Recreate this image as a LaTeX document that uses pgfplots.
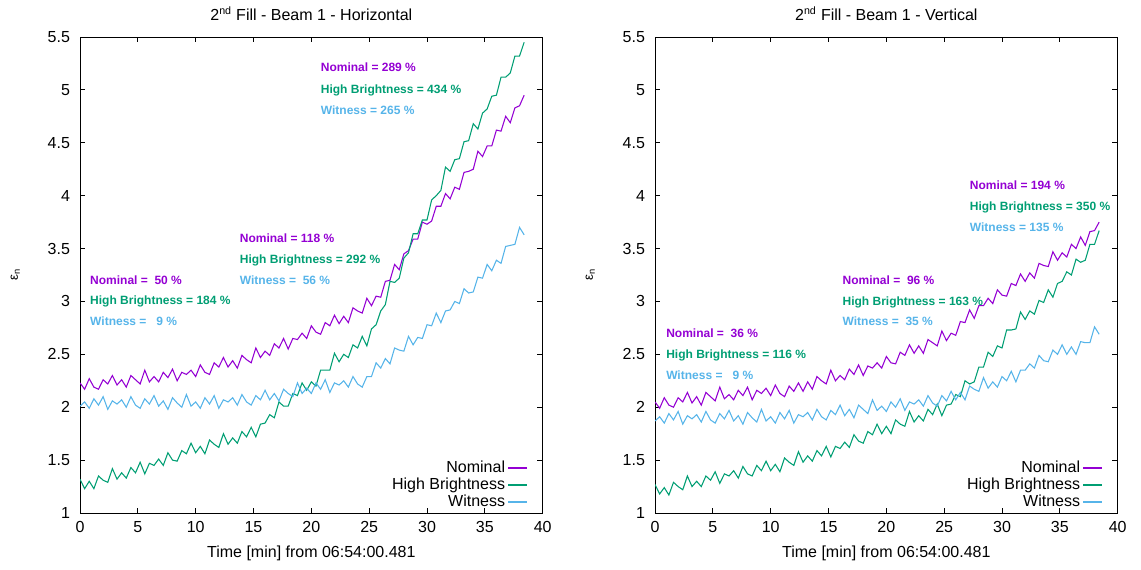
\documentclass[border=0pt]{standalone}
\usepackage{pgfplots}
\pgfplotsset{compat=1.18}
\usepackage{pgfplotstable}
\usepackage{fontspec}
\setmainfont{Liberation Sans}
\definecolor{cNom}{HTML}{9400D3}
\definecolor{cHB}{HTML}{009E73}
\definecolor{cWit}{HTML}{56B4E9}

\pgfplotstableread{
t a b c
0.0 2.23 1.32 2.01
0.4 2.17 1.23 2.05
0.8 2.27 1.30 1.99
1.2 2.19 1.23 2.08
1.6 2.17 1.35 2.02
2.0 2.26 1.31 2.10
2.4 2.22 1.29 1.98
2.8 2.30 1.42 2.06
3.2 2.21 1.32 2.03
3.6 2.26 1.38 2.07
4.0 2.19 1.33 2.00
4.4 2.30 1.43 2.10
4.8 2.26 1.38 2.02
5.2 2.22 1.48 1.99
5.6 2.35 1.37 2.08
6.0 2.24 1.47 2.03
6.4 2.29 1.45 2.11
6.8 2.24 1.51 2.01
7.2 2.33 1.45 2.06
7.6 2.28 1.57 1.98
8.0 2.36 1.50 2.09
8.4 2.25 1.49 2.04
8.8 2.33 1.59 2.00
9.2 2.31 1.56 2.12
9.6 2.35 1.66 2.01
10.0 2.29 1.57 2.05
10.4 2.40 1.63 1.99
10.8 2.33 1.56 2.09
11.2 2.31 1.69 2.03
11.6 2.42 1.65 2.11
12.0 2.38 1.62 1.99
12.4 2.47 1.75 2.07
12.8 2.38 1.65 2.05
13.2 2.44 1.71 2.09
13.6 2.37 1.66 2.02
14.0 2.49 1.77 2.12
14.4 2.45 1.72 2.05
14.8 2.42 1.81 2.02
15.2 2.56 1.72 2.11
15.6 2.47 1.84 2.07
16.0 2.53 1.85 2.16
16.4 2.49 1.93 2.07
16.8 2.60 1.90 2.13
17.2 2.56 2.05 2.06
17.6 2.65 2.01 2.17
18.0 2.55 2.01 2.13
18.4 2.65 2.13 2.10
18.8 2.64 2.11 2.23
19.2 2.70 2.23 2.13
19.6 2.65 2.16 2.18
20.0 2.77 2.24 2.13
20.4 2.71 2.20 2.23
20.8 2.69 2.35 2.17
21.2 2.80 2.35 2.26
21.6 2.77 2.35 2.14
22.0 2.87 2.51 2.23
22.4 2.79 2.43 2.21
22.8 2.86 2.50 2.25
23.2 2.80 2.47 2.19
23.6 2.94 2.59 2.29
24.0 2.91 2.56 2.22
24.4 2.89 2.67 2.19
24.8 3.03 2.58 2.29
25.2 2.96 2.74 2.29
25.6 3.05 2.78 2.42
26.0 3.04 2.91 2.37
26.4 3.19 2.97 2.46
26.8 3.20 3.19 2.41
27.2 3.35 3.18 2.56
27.6 3.30 3.22 2.54
28.0 3.45 3.41 2.53
28.4 3.48 3.46 2.67
28.8 3.59 3.64 2.59
29.2 3.59 3.64 2.66
29.6 3.75 3.77 2.65
30.0 3.73 3.77 2.78
30.4 3.76 3.96 2.77
30.8 3.90 4.00 2.89
31.2 3.90 4.05 2.80
31.6 4.02 4.27 2.91
32.0 3.97 4.23 2.92
32.4 4.08 4.34 3.00
32.8 4.06 4.35 2.98
33.2 4.22 4.51 3.12
33.6 4.23 4.52 3.08
34.0 4.25 4.68 3.09
34.4 4.42 4.63 3.23
34.8 4.37 4.78 3.22
35.2 4.47 4.82 3.35
35.6 4.47 4.94 3.29
36.0 4.62 4.95 3.39
36.4 4.61 5.12 3.36
36.8 4.75 5.12 3.52
37.2 4.69 5.16 3.53
37.6 4.83 5.32 3.54
38.0 4.85 5.32 3.70
38.4 4.95 5.45 3.63
}\tabH

\pgfplotstableread{
t a b c
0.0 2.05 1.27 1.87
0.4 1.99 1.18 1.91
0.8 2.09 1.24 1.85
1.2 2.02 1.17 1.94
1.6 2.00 1.29 1.88
2.0 2.09 1.25 1.96
2.4 2.05 1.22 1.84
2.8 2.14 1.35 1.92
3.2 2.04 1.25 1.89
3.6 2.10 1.30 1.93
4.0 2.02 1.25 1.86
4.4 2.14 1.35 1.96
4.8 2.10 1.31 1.88
5.2 2.06 1.39 1.85
5.6 2.19 1.28 1.94
6.0 2.08 1.37 1.89
6.4 2.12 1.35 1.97
6.8 2.07 1.40 1.87
7.2 2.16 1.33 1.92
7.6 2.11 1.44 1.84
8.0 2.19 1.37 1.95
8.4 2.07 1.35 1.90
8.8 2.16 1.45 1.86
9.2 2.13 1.40 1.98
9.6 2.18 1.49 1.87
10.0 2.11 1.40 1.91
10.4 2.21 1.46 1.85
10.8 2.13 1.39 1.95
11.2 2.10 1.52 1.89
11.6 2.20 1.48 1.97
12.0 2.15 1.45 1.85
12.4 2.23 1.58 1.93
12.8 2.15 1.48 1.91
13.2 2.24 1.54 1.95
13.6 2.17 1.49 1.88
14.0 2.29 1.59 1.98
14.4 2.25 1.54 1.91
14.8 2.22 1.63 1.88
15.2 2.35 1.53 1.97
15.6 2.25 1.63 1.93
16.0 2.30 1.61 2.02
16.4 2.26 1.67 1.92
16.8 2.36 1.62 1.98
17.2 2.31 1.74 1.90
17.6 2.40 1.68 2.02
18.0 2.30 1.66 1.98
18.4 2.39 1.77 1.94
18.8 2.37 1.74 2.07
19.2 2.42 1.84 1.97
19.6 2.37 1.75 2.01
20.0 2.48 1.82 1.96
20.4 2.42 1.75 2.05
20.8 2.41 1.88 2.00
21.2 2.52 1.84 2.08
21.6 2.49 1.82 1.97
22.0 2.59 1.96 2.05
22.4 2.51 1.86 2.03
22.8 2.58 1.92 2.07
23.2 2.51 1.87 2.01
23.6 2.64 1.98 2.11
24.0 2.61 1.93 2.04
24.4 2.58 2.03 2.01
24.8 2.72 1.92 2.11
25.2 2.63 2.02 2.06
25.6 2.70 2.03 2.15
26.0 2.68 2.12 2.07
26.4 2.81 2.10 2.14
26.8 2.80 2.25 2.07
27.2 2.92 2.22 2.20
27.6 2.84 2.24 2.17
28.0 2.96 2.38 2.15
28.4 2.96 2.38 2.28
28.8 3.03 2.52 2.18
29.2 2.98 2.48 2.24
29.6 3.11 2.58 2.19
30.0 3.06 2.56 2.29
30.4 3.05 2.73 2.25
30.8 3.17 2.73 2.34
31.2 3.15 2.74 2.24
31.6 3.26 2.90 2.35
32.0 3.19 2.83 2.35
32.4 3.27 2.91 2.41
32.8 3.22 2.88 2.37
33.2 3.36 3.01 2.49
33.6 3.34 2.99 2.44
34.0 3.33 3.11 2.43
34.4 3.47 3.04 2.54
34.8 3.39 3.17 2.50
35.2 3.46 3.19 2.59
35.6 3.42 3.28 2.50
36.0 3.54 3.25 2.57
36.4 3.50 3.40 2.50
36.8 3.61 3.37 2.62
37.2 3.53 3.39 2.61
37.6 3.66 3.54 2.61
38.0 3.67 3.54 2.76
38.4 3.75 3.67 2.69
}\tabV

\tikzset{ann/.style={anchor=base west, inner xsep=0pt, font=\bfseries\fontsize{9}{10}\selectfont}}

\pgfplotsset{
  myaxis/.style={
    scale only axis, width=347pt, height=357pt,
    xmin=0, xmax=40, ymin=1, ymax=5.5,
    xtick={0,5,10,15,20,25,30,35,40},
    ytick={1,1.5,2,2.5,3,3.5,4,4.5,5,5.5},
    tick align=inside, major tick length=4pt,
    axis line style={line width=0.75pt},
    every tick/.style={black, line width=0.75pt},
    /pgf/number format/assume math mode=true,
    ticklabel style={font=\fontsize{12}{14}\selectfont},
    yticklabel style={xshift=-4pt},
    xticklabel style={yshift=-3pt},
    xlabel={Time [min] from 06:54:00.481},
    xlabel style={at={(axis description cs:0.5,0)}, anchor=base, yshift=-33pt, font=\fontsize{12}{14}\selectfont},
    ylabel={ε\textsubscript{n}},
    ylabel style={at={(axis description cs:-0.14,0.5)}, anchor=center, rotate=0, font=\fontsize{10}{12}\selectfont},
    title style={at={(axis description cs:0.5,1)}, anchor=base, yshift=6.75pt, font=\fontsize{12}{14}\selectfont},
    legend cell align=right,
    legend plot pos=right,
    legend style={draw=none, fill=none, at={(axis description cs:1,0)}, anchor=south east, xshift=-8pt, yshift=-1pt, font=\fontsize{12}{12}\selectfont, row sep=-1.5pt},
    legend image code/.code={\draw[#1, line width=1pt] (5pt,0pt) -- (19pt,0pt);},
    every axis plot/.append style={line width=0.8pt},
  },
}

\begin{document}
\begin{tikzpicture}
\useasboundingbox (0pt,0pt) rectangle (855.75pt,426.75pt);
\begin{axis}[myaxis, at={(60pt,42pt)}, anchor=south west,
  title={2\textsuperscript{nd} Fill - Beam 1 - Horizontal}]
\addplot[cNom] table[x=t,y=a]{\tabH};
\addlegendentry{Nominal}
\addplot[cHB] table[x=t,y=b]{\tabH};
\addlegendentry{High Brightness}
\addplot[cWit] table[x=t,y=c]{\tabH};
\addlegendentry{Witness}
\node[ann, text=cNom] at (axis cs:20.8,5.17) {Nominal = 289 \%};
\node[ann, text=cHB] at (axis cs:20.8,4.97) {High Brightness = 434 \%};
\node[ann, text=cWit] at (axis cs:20.8,4.77) {Witness = 265 \%};
\node[ann, text=cNom] at (axis cs:13.8,3.56) {Nominal = 118 \%};
\node[ann, text=cHB] at (axis cs:13.8,3.36) {High Brightness = 292 \%};
\node[ann, text=cWit] at (axis cs:13.8,3.16) {Witness =\ \ 56 \%};
\node[ann, text=cNom] at (axis cs:0.86,3.16) {Nominal =\ \ 50 \%};
\node[ann, text=cHB] at (axis cs:0.86,2.97) {High Brightness = 184 \%};
\node[ann, text=cWit] at (axis cs:0.86,2.77) {Witness =\ \ \ 9 \%};
\end{axis}
\begin{axis}[myaxis, at={(491.25pt,42pt)}, anchor=south west,
  title={2\textsuperscript{nd} Fill - Beam 1 - Vertical}]
\addplot[cNom] table[x=t,y=a]{\tabV};
\addlegendentry{Nominal}
\addplot[cHB] table[x=t,y=b]{\tabV};
\addlegendentry{High Brightness}
\addplot[cWit] table[x=t,y=c]{\tabV};
\addlegendentry{Witness}
\node[ann, text=cNom] at (axis cs:27.2,4.06) {Nominal = 194 \%};
\node[ann, text=cHB] at (axis cs:27.2,3.86) {High Brightness = 350 \%};
\node[ann, text=cWit] at (axis cs:27.2,3.66) {Witness = 135 \%};
\node[ann, text=cNom] at (axis cs:16.2,3.16) {Nominal =\ \ 96 \%};
\node[ann, text=cHB] at (axis cs:16.2,2.96) {High Brightness = 163 \%};
\node[ann, text=cWit] at (axis cs:16.2,2.77) {Witness =\ \ 35 \%};
\node[ann, text=cNom] at (axis cs:0.95,2.66) {Nominal =\ \ 36 \%};
\node[ann, text=cHB] at (axis cs:0.95,2.46) {High Brightness = 116 \%};
\node[ann, text=cWit] at (axis cs:0.95,2.26) {Witness =\ \ \ 9 \%};
\end{axis}
\end{tikzpicture}
\end{document}
